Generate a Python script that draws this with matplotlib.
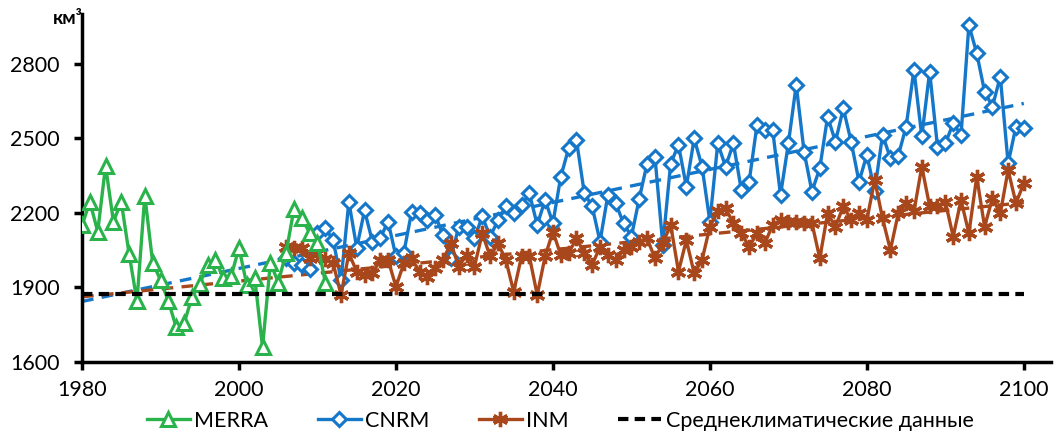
import matplotlib
matplotlib.use("Agg")
import matplotlib.pyplot as plt
import numpy as np

plt.rcParams['font.family'] = ['Lato', 'DejaVu Sans']

# MERRA reanalysis, 1980-2011
merra_years = list(range(1980, 2012))
merra = [2150, 2245, 2125, 2390, 2165, 2245, 2035, 1845, 2270, 2000,
         1930, 1845, 1740, 1755, 1860, 1915, 1990, 2010, 1940, 1945,
         2060, 1910, 1940, 1660, 2000, 1920, 2040, 2215, 2180, 2120,
         2080, 1920]

# model runs, 2006-2100
model_years = list(range(2006, 2101))
cnrm = [2020, 2000, 1990, 1975, 2120, 2140, 2090, 1930, 2245, 2060,
        2210, 2085, 2100, 2165, 2025, 2040, 2205, 2198, 2172, 2192,
        2110, 2020, 2145, 2145, 2098, 2186, 2105, 2170, 2227, 2198,
        2232, 2279, 2152, 2252, 2160, 2346, 2460, 2494, 2279, 2227,
        2085, 2272, 2239, 2158, 2105, 2258, 2399, 2426, 2071, 2399,
        2474, 2306, 2500, 2387, 2165, 2480, 2387, 2480, 2293, 2326,
        2554, 2534, 2534, 2272, 2480, 2716, 2447, 2286, 2380, 2588,
        2487, 2621, 2487, 2326, 2434, 2290, 2514, 2421, 2430, 2548,
        2776, 2508, 2769, 2467, 2480, 2561, 2514, 2957, 2843, 2689,
        2628, 2749, 2400, 2548, 2541]
inm = [2064, 2058, 2058, 2017, 2038, 2015, 1997, 1870, 2038, 1964,
       1950, 1957, 2011, 2011, 1903, 1997, 2017, 1964, 1943, 1977,
       2011, 2078, 1984, 2031, 1984, 2118, 2025, 2078, 2011, 1883,
       2025, 2025, 1870, 2025, 2125, 2031, 2038, 2098, 2038, 1991,
       2064, 2031, 2011, 2051, 2064, 2085, 2098, 2017, 2078, 2152,
       1964, 2091, 1957, 2011, 2145, 2206, 2219, 2158, 2118, 2064,
       2118, 2078, 2152, 2172, 2165, 2165, 2158, 2160, 2017, 2198,
       2145, 2227, 2172, 2198, 2172, 2333, 2178, 2051, 2198, 2239,
       2206, 2387, 2227, 2227, 2245, 2105, 2252, 2118, 2346, 2145,
       2259, 2198, 2373, 2239, 2320]

clim_years = [1980, 2100]
clim_value = 1872

green = '#2AB24B'
blue = '#1577C9'
brown = '#A8471C'

fig = plt.figure(figsize=(10.57, 4.33), dpi=100)
ax = fig.add_axes([0.0776, 0.164, 0.917, 0.803])

# trend lines (linear fit, extended back to 1980)
trend_x = np.array([1980, 2100])
for series, color in [(cnrm, blue), (inm, brown)]:
    k, b = np.polyfit(model_years, series, 1)
    ax.plot(trend_x, k * trend_x + b, color=color, lw=2.4,
            ls=(0, (3.5, 2.5)), zorder=2)

ax.plot(merra_years, merra, color=green, lw=2.4, marker='^', ms=10,
        mfc='white', mec=green, mew=2.2, label='MERRA', zorder=4)
ax.plot(model_years, cnrm, color=blue, lw=2.4, marker='D', ms=7.5,
        mfc='white', mec=blue, mew=2.2, label='CNRM', zorder=3)
ax.plot(model_years, inm, color=brown, lw=2.4, marker=(6, 2, 0), ms=11,
        mec=brown, mew=2.4, label='INM', zorder=3)
ax.plot(clim_years, [clim_value, clim_value], color='black', lw=3,
        ls=(0, (2.5, 1.5)), label='Среднеклиматические данные', zorder=5)

ax.set_xlim(1980, 2103.5)
ax.set_ylim(1600, 3000)
ax.set_xticks(range(1980, 2101, 20))
ax.set_yticks(range(1600, 2801, 300))
for s in ['top', 'right']:
    ax.spines[s].set_visible(False)
for s in ['left', 'bottom']:
    ax.spines[s].set_linewidth(2.5)
ax.tick_params(axis='both', direction='out', length=6, width=2.5,
               labelsize=15.5, colors='black', pad=7)
ax.tick_params(axis='y', pad=10)

fig.text(0.064, 0.945, 'км³', fontsize=13.5, fontweight='bold', ha='center')

fig.legend(loc='center', bbox_to_anchor=(0.53, 0.028), ncol=4,
           frameon=False, fontsize=15.5, handlelength=2.0,
           columnspacing=2.3, handletextpad=0.2)

fig.savefig('out.png', dpi=100)
